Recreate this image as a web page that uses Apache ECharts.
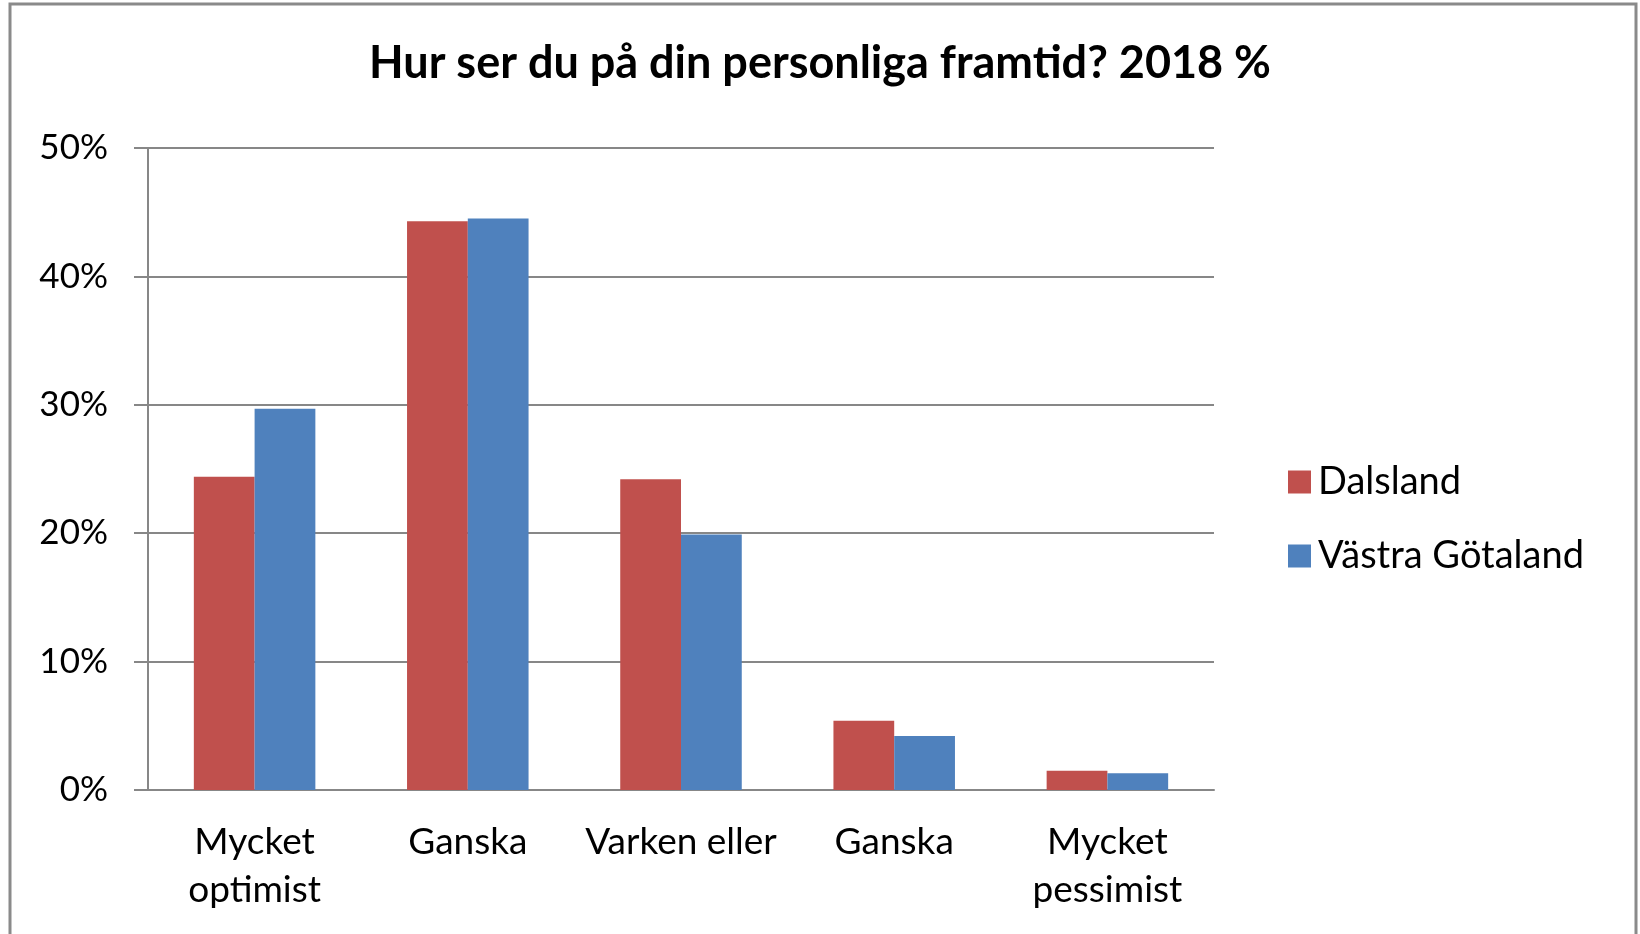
<!DOCTYPE html>
<html>
<head>
<meta charset="utf-8">
<script src="https://cdn.jsdelivr.net/npm/echarts@6/dist/echarts.min.js"></script>
<style>
html,body{margin:0;padding:0;background:#fff;}
#chart{width:1640px;height:934px;}
</style>
</head>
<body>
<div id="chart"></div>
<script>
// kategorier och värden (procent)
var categories = ['Mycket\noptimist', 'Ganska', 'Varken eller', 'Ganska', 'Mycket\npessimist'];
var dalsland = [24.4, 44.3, 24.2, 5.4, 1.5];
var vastraGotaland = [29.7, 44.5, 19.9, 4.2, 1.3];
var yTicks = [0, 10, 20, 30, 40, 50];

var fontName = 'Lato, "Open Sans", sans-serif';
var gridColor = '#878787';

var myChart = echarts.init(document.getElementById('chart'));
var option = {
	backgroundColor: '#fff',
	animation: false,
	title: {
		text: 'Hur ser du på din personliga framtid? 2018 %',
		left: 'center',
		top: 36,
		textStyle: {fontFamily: fontName, fontWeight: 'bold', fontSize: 45, color: '#000'}
	},
	graphic: [{
		type: 'rect',
		shape: {x: 10, y: 4, width: 1626, height: 950},
		style: {fill: 'none', stroke: '#8a8a8a', lineWidth: 3},
		silent: true
	}],
	legend: {
		orient: 'vertical',
		left: 1283,
		top: 456,
		itemWidth: 23,
		itemHeight: 23,
		itemGap: 32,
		icon: 'rect',
		textStyle: {fontFamily: fontName, fontSize: 38, color: '#000', lineHeight: 42, padding: [0, 0, 0, 2]},
		data: ['Dalsland', 'Västra Götaland']
	},
	grid: {left: 148, right: 426, top: 148, bottom: 144},
	xAxis: {
		type: 'category',
		data: categories,
		axisLine: {lineStyle: {color: gridColor, width: 2}},
		axisTick: {length: 14, lineStyle: {color: gridColor, width: 2}},
		axisLabel: {fontFamily: fontName, fontSize: 37, color: '#000', margin: 28, lineHeight: 48, interval: 0}
	},
	yAxis: {
		type: 'value',
		min: yTicks[0],
		max: yTicks[yTicks.length - 1],
		interval: 10,
		axisLine: {show: true, lineStyle: {color: gridColor, width: 2}},
		axisTick: {show: true, length: 14, lineStyle: {color: gridColor, width: 2}},
		axisLabel: {fontFamily: fontName, fontSize: 35, color: '#000', margin: 40, formatter: '{value}%'},
		splitLine: {lineStyle: {color: gridColor, width: 2}}
	},
	series: [
		{name: 'Dalsland', type: 'bar', data: dalsland, barGap: '0%', barCategoryGap: '43%',
			itemStyle: {color: '#C0504D'}},
		{name: 'Västra Götaland', type: 'bar', data: vastraGotaland, barGap: '0%', barCategoryGap: '43%',
			itemStyle: {color: '#4F81BD'}}
	]
};
myChart.setOption(option);
</script>
</body>
</html>
